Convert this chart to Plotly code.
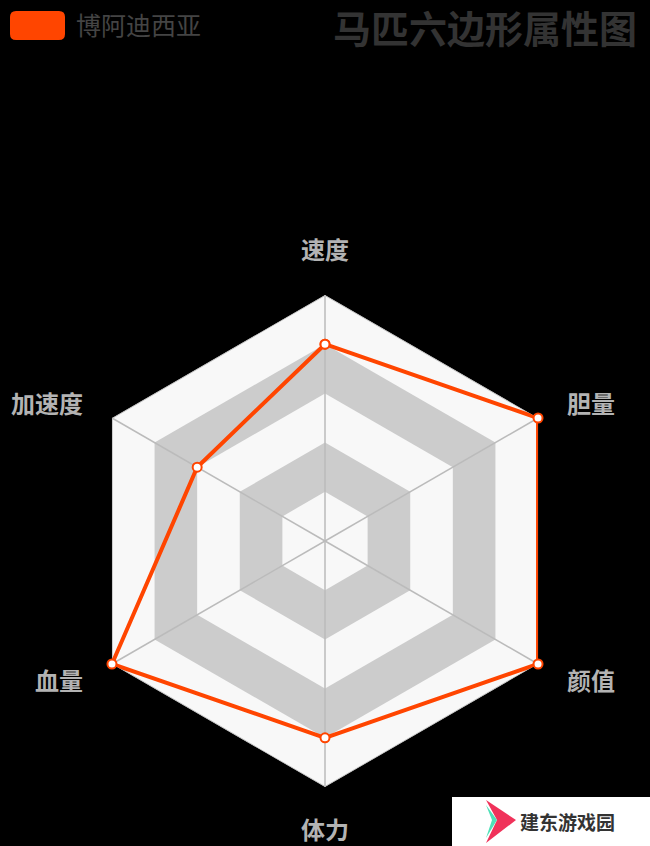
import math
import plotly.graph_objects as go

categories = ["速度", "胆量", "颜值", "体力", "血量", "加速度"]
values = [0.8, 1.0, 1.0, 0.8, 1.0, 0.6]
series_name = "博阿迪西亚"
title_text = "马匹六边形属性图"
max_value = 1.0
split_levels = [1.0, 0.8, 0.6, 0.4, 0.2]
split_colors = ["#f8f8f8", "#cccccc", "#f8f8f8", "#cccccc", "#f8f8f8"]

W, H = 650, 846
CX, CY, R = 325, 541, 246
FONT = "Noto Sans CJK SC"
ORANGE = "#ff4500"

fig = go.Figure()
closed_theta = categories + [categories[0]]

# split areas
for lvl, col in zip(split_levels, split_colors):
    fig.add_trace(go.Scatterpolar(
        r=[lvl] * (len(categories) + 1), theta=closed_theta,
        mode="lines", fill="toself", fillcolor=col,
        line=dict(width=0, color=col), showlegend=False, hoverinfo="skip"))

# spokes
for c in categories:
    fig.add_trace(go.Scatterpolar(
        r=[0, max_value], theta=[c, c], mode="lines",
        line=dict(color="#bbbbbb", width=1.5), showlegend=False, hoverinfo="skip"))

# outer border
fig.add_trace(go.Scatterpolar(
    r=[max_value] * (len(categories) + 1), theta=closed_theta, mode="lines",
    line=dict(color="#bbbbbb", width=1.5), showlegend=False, hoverinfo="skip"))

# data
fig.add_trace(go.Scatterpolar(
    r=values + [values[0]], theta=closed_theta, mode="lines+markers",
    name=series_name,
    line=dict(color=ORANGE, width=4),
    marker=dict(size=9, color="white", line=dict(color=ORANGE, width=2)),
    showlegend=False))

annotations = []
n = len(categories)
for i, c in enumerate(categories):
    ang = math.radians(90 - i * 360 / n)
    cs, sn = math.cos(ang), math.sin(ang)
    if abs(cs) < 1e-6:
        xa = "center"
        ya = "bottom" if sn > 0 else "top"
        label_r = R + (27 if sn > 0 else 22)
    else:
        xa = "left" if cs > 0 else "right"
        ya = "middle"
        label_r = R + 31
    px = CX + label_r * cs
    py = CY - label_r * sn
    annotations.append(dict(
        x=px / W, y=1 - py / H, xref="paper", yref="paper",
        text="<b>" + c + "</b>", showarrow=False, xanchor=xa, yanchor=ya,
        font=dict(family=FONT, size=24, color="#b3b3b3")))

# title
annotations.append(dict(
    x=639 / W, y=1 - 27 / H, xref="paper", yref="paper", text="<b>" + title_text + "</b>",
    showarrow=False, xanchor="right", yanchor="middle",
    font=dict(family=FONT, size=38, color="#333333")))

# legend text
annotations.append(dict(
    x=74 / W, y=1 - 24 / H, xref="paper", yref="paper", text=series_name,
    showarrow=False, xanchor="left", yanchor="middle",
    font=dict(family=FONT, size=25, color="#444444")))

# watermark text
annotations.append(dict(
    x=518 / W, y=1 - 821 / H, xref="paper", yref="paper", text="<b>建东游戏园</b>",
    showarrow=False, xanchor="left", yanchor="middle",
    font=dict(family=FONT, size=19, color="#333333")))

def rounded_rect(x0, y0, x1, y1, rx, ry):
    return (f"M{x0+rx},{y0} L{x1-rx},{y0} Q{x1},{y0} {x1},{y0+ry} L{x1},{y1-ry} "
            f"Q{x1},{y1} {x1-rx},{y1} L{x0+rx},{y1} Q{x0},{y1} {x0},{y1-ry} "
            f"L{x0},{y0+ry} Q{x0},{y0} {x0+rx},{y0} Z")

def to_paper_path(pts):
    return "M" + " L".join(f"{x / W},{1 - y / H}" for x, y in pts) + " Z"

shapes = []
# legend swatch
x0, y0, x1, y1, rr = 10, 11, 65, 40, 6
shapes.append(dict(type="path", xref="paper", yref="paper",
                   path=rounded_rect(x0 / W, 1 - y1 / H, x1 / W, 1 - y0 / H, rr / W, rr / H),
                   fillcolor=ORANGE, line=dict(width=0)))
# watermark box
shapes.append(dict(type="rect", xref="paper", yref="paper",
                   x0=452 / W, x1=1, y0=0, y1=1 - 797 / H,
                   fillcolor="white", line=dict(width=0)))
shapes.append(dict(type="path", xref="paper", yref="paper",
                   path=to_paper_path([(486, 800), (516, 820), (486, 843), (497, 820)]),
                   fillcolor="#f0325a", line=dict(width=0)))
shapes.append(dict(type="path", xref="paper", yref="paper",
                   path=to_paper_path([(486, 805), (497, 820), (486, 838), (492, 820)]),
                   fillcolor="#4fe0b8", line=dict(width=0)))

fig.update_layout(
    width=W, height=H,
    margin=dict(l=0, r=0, t=0, b=0),
    paper_bgcolor="black", plot_bgcolor="black",
    font=dict(family=FONT),
    polar=dict(
        domain=dict(x=[(CX - R) / W, (CX + R) / W], y=[(H - CY - R) / H, (H - CY + R) / H]),
        bgcolor="rgba(0,0,0,0)",
        gridshape="linear",
        radialaxis=dict(range=[0, max_value], visible=False, showgrid=False),
        angularaxis=dict(rotation=90, direction="clockwise", showgrid=False,
                         showline=False, showticklabels=False, ticks="",
                         categoryorder="array", categoryarray=categories),
    ),
    showlegend=False,
    annotations=annotations,
    shapes=shapes,
)

fig.write_html(
    "out.html",
    config={"displayModeBar": False},
    post_script="document.body.style.margin='0';document.body.style.padding='0';"
                "document.body.style.background='black';"
                "document.body.style.overflow='hidden';",
)
